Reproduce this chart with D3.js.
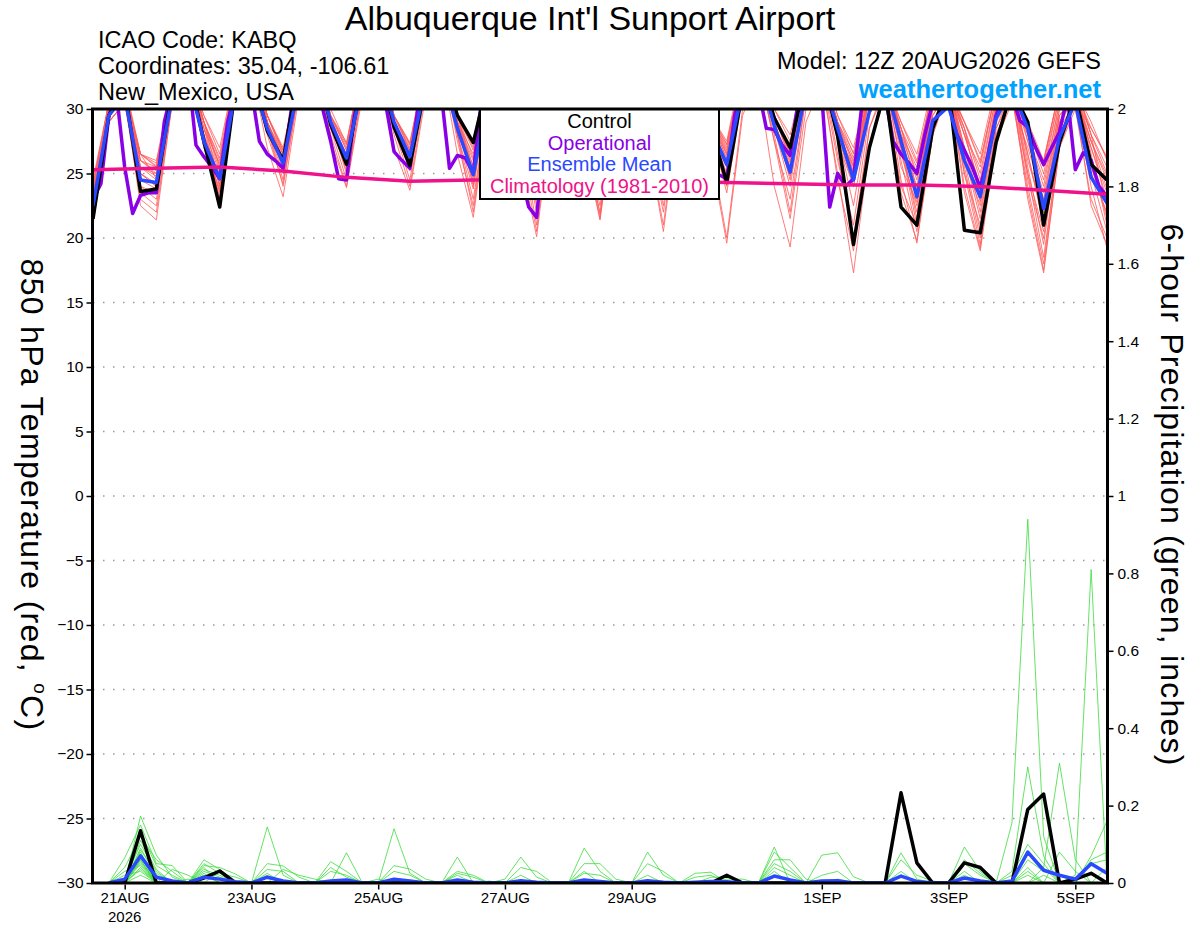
<!DOCTYPE html>
<html>
<head>
<meta charset="UTF-8">
<title>KABQ GEFS meteogram</title>
<script src="https://cdn.jsdelivr.net/npm/d3@7"></script>
<style>
  body { margin: 0; background: #fff; }
  text { font-family: "Liberation Sans", Arial, Helvetica, sans-serif; }
</style>
</head>
<body>
<script>
// ---- data ----
const runStart = Date.UTC(2026, 7, 20, 12);   // 12Z 20AUG2026
const stepHours = 6, nSteps = 65;             // 0..384 h
const operStepHours = 3, nOper = 129;         // operational run is 3-hourly

const tickDays   = ["2026-08-21", "2026-08-23", "2026-08-25", "2026-08-27", "2026-08-29", "2026-09-01", "2026-09-03", "2026-09-05"];
const tickLabels = ["21AUG", "23AUG", "25AUG", "27AUG", "29AUG", "1SEP", "3SEP", "5SEP"];
const tempTicks  = [-30, -25, -20, -15, -10, -5, 0, 5, 10, 15, 20, 25, 30];
const precTicks  = [0, 0.2, 0.4, 0.6, 0.8, 1, 1.2, 1.4, 1.6, 1.8, 2];

// control (black), 850 hPa temperature, 6-hourly
const ctrlTemp = [21.5,29.5,31.5,23.6, 23.8,31.5,33.0,27.5, 22.4,31.8,33.0,28.3, 26.0,33.0,34.0,28.8, 25.7,32.5,34.0,28.6,
  25.6,32.0,33.5,29.5, 27.4,32.5,34.0,29.0, 24.5,32.0,34.0,29.0, 25.0,32.0,34.0,29.0, 25.0,32.0,33.5,28.5,
  24.3,31.5,33.5,29.3, 27.0,32.5,33.0,27.9, 19.5,27.0,31.5,22.4, 21.0,28.5,31.8,20.6, 20.4,27.4,31.5,29.0,
  21.0,27.4,31.0,25.7, 24.5];

// ensemble mean (blue)
const meanTemp = [22.5,29.5,31.0,24.5, 24.3,31.0,32.5,27.5, 24.6,31.5,32.5,28.5, 25.8,32.0,33.5,29.0, 26.2,32.0,33.5,29.0,
  26.3,32.0,33.0,28.5, 24.9,31.5,33.0,28.0, 24.0,31.5,33.0,28.0, 24.2,31.5,33.0,28.0, 24.5,31.5,33.0,28.5,
  25.7,31.5,33.0,28.7, 25.1,31.5,32.5,28.5, 24.5,29.8,32.0,27.5, 23.2,29.1,30.2,26.0, 23.2,29.3,31.5,28.5,
  22.3,27.8,30.5,24.7, 22.7];

// operational (purple), 3-hourly
const operTemp = [23.0,24.2,29.5,31.0,25.5,21.9,23.3,23.5, 23.5,29.0,31.5,32.5,33.0,27.2,26.3,25.5,
  24.6,29.0,31.5,33.0,31.5,27.5,26.5,26.0, 25.4,29.8,32.0,33.5,33.0,30.0,27.5,24.6,
  24.5,29.5,32.0,33.5,33.0,30.2,26.7,26.0, 25.4,30.0,32.0,33.5,31.0,25.4,26.4,26.2,
  25.0,30.5,32.5,33.5,33.0,29.0,25.0,22.4, 21.6,28.0,31.5,33.0,33.0,30.0,28.0,26.5,
  25.0,29.5,32.0,33.5,33.0,30.0,28.0,26.0, 24.5,29.5,32.0,33.5,33.0,30.5,26.0,24.9,
  24.6,29.5,32.0,33.5,31.5,28.5,28.4,27.2, 26.4,30.5,32.5,33.5,31.0,22.4,25.0,24.0,
  24.6,30.0,32.0,33.0,31.0,27.5,26.5,25.8, 25.0,28.0,30.5,32.0,30.5,28.1,26.8,25.5,
  23.9,26.5,29.5,31.0,31.0,29.1,28.6,27.0, 25.7,27.0,28.2,31.0,25.3,26.6,26.0,24.0, 23.2];

// climatology 1981-2010 (magenta), one value per day at 12Z
const climTemp = [25.3, 25.4, 25.5, 25.2, 24.7, 24.4, 24.5, 24.5, 24.5, 24.4, 24.3, 24.2, 24.1, 24.1, 24.0, 23.7, 23.4];

// ensemble members (thin red), 6-hourly
const memberTemp = [
  [21.0,29.5,31.0,22.5, 21.4,30.5,32.5,28.0, 23.0,31.5,33.0,28.5, 24.5,32.0,34.0,29.0, 25.0,32.5,34.0,28.5, 24.5,32.0,33.5,28.0, 22.0,31.0,33.0,27.0, 20.5,30.5,33.0,28.0, 23.0,31.5,33.5,27.5, 21.0,30.5,33.0,27.0, 20.0,30.0,32.5,28.0, 22.0,31.0,32.0,25.0, 17.3,27.0,31.0,24.0, 21.0,29.0,31.5,25.0, 19.5,28.0,31.0,24.0, 18.0,27.5,30.5,22.5, 19.5],
  [22.5,30.0,31.5,25.5, 24.5,31.5,33.0,28.5, 24.0,32.0,33.5,29.0, 26.5,33.0,34.5,29.5, 26.0,32.5,34.0,29.0, 26.0,32.5,34.0,29.5, 25.0,32.0,33.5,28.0, 22.0,31.0,33.0,28.5, 24.5,31.5,33.5,29.0, 23.5,31.5,33.5,29.0, 26.5,32.5,33.5,29.5, 26.0,32.0,33.0,28.0, 24.0,31.0,32.5,27.5, 24.0,30.5,32.0,28.0, 24.0,30.0,31.5,26.5, 21.0,29.0,31.0,27.0, 23.0],
  [23.5,30.5,31.0,26.5, 25.5,31.0,32.5,29.0, 25.5,32.0,33.5,28.5, 25.0,31.5,33.5,28.0, 24.0,31.5,33.5,28.5, 25.5,32.0,34.0,29.0, 26.0,32.5,34.0,28.5, 23.5,31.5,33.0,27.5, 21.5,30.5,32.5,28.0, 25.0,32.0,33.5,29.0, 24.5,31.0,32.0,24.0, 19.3,29.0,32.0,28.0, 25.5,31.5,32.5,27.0, 22.0,29.5,31.5,26.0, 22.5,30.0,32.0,28.5, 25.0,31.0,32.0,26.0, 21.5],
  [22.0,29.0,30.5,24.0, 23.5,30.5,32.0,27.5, 24.5,31.5,33.0,27.0, 23.2,31.0,33.0,29.0, 26.5,33.0,34.5,29.5, 27.0,33.0,34.0,29.0, 24.0,31.5,33.5,29.0, 25.0,32.0,33.5,28.5, 26.0,32.5,34.0,27.5, 20.5,30.0,33.0,29.5, 26.0,32.5,34.0,29.5, 27.0,32.0,33.0,26.5, 20.0,28.5,31.5,23.5, 19.8,28.0,31.5,28.0, 25.5,31.5,32.5,27.5, 23.5,30.0,31.5,28.0, 25.5],
  [24.5,30.5,31.5,26.5, 26.0,32.0,33.0,28.0, 23.5,31.0,33.0,29.0, 26.0,32.5,34.0,29.0, 25.5,32.0,33.5,28.0, 24.0,31.5,33.5,29.5, 27.0,33.0,34.0,28.0, 21.0,30.5,33.0,28.5, 25.0,32.0,33.5,29.0, 24.0,31.5,33.0,28.0, 25.5,32.0,33.5,29.0, 24.5,31.5,33.0,28.5, 26.0,32.0,33.0,28.0, 25.5,31.5,32.5,25.0, 21.0,29.0,31.0,23.5, 17.5,27.0,30.0,23.0, 20.0],
  [21.5,29.5,31.0,25.0, 24.0,31.0,33.0,29.0, 26.0,32.5,34.0,29.5, 27.0,33.0,34.5,28.5, 24.5,31.5,33.5,29.0, 26.8,33.0,34.0,28.0, 23.0,31.0,33.0,29.0, 26.0,32.5,34.0,28.0, 22.5,31.0,33.0,29.0, 26.0,32.5,33.5,26.5, 19.6,29.5,32.5,29.0, 25.5,32.0,33.0,28.5, 25.0,31.5,32.5,27.0, 23.5,30.5,32.0,29.0, 26.5,32.0,32.5,26.0, 22.0,29.5,31.0,27.5, 24.5],
  [23.0,30.0,31.5,23.5, 22.5,30.5,32.5,28.5, 25.0,32.0,33.5,29.0, 26.2,32.5,34.0,29.5, 27.0,33.5,34.5,29.0, 26.5,33.0,34.5,29.5, 25.5,32.5,34.0,28.5, 24.0,31.5,33.5,29.0, 24.0,31.5,33.0,28.0, 22.0,31.0,33.0,29.5, 27.0,33.0,34.0,29.0, 25.5,31.5,32.5,24.5, 19.0,28.5,32.0,29.0, 26.5,32.0,32.5,25.5, 20.0,28.5,31.5,28.0, 24.5,30.5,31.5,25.0, 22.0],
  [22.8,30.0,31.0,26.0, 25.0,31.5,33.0,27.0, 23.8,31.0,33.0,28.5, 25.5,32.0,33.5,28.5, 25.8,32.5,34.0,29.0, 25.8,32.0,33.5,26.5, 21.6,30.5,33.0,28.0, 22.5,31.0,33.0,29.5, 26.5,33.0,34.0,29.0, 25.5,32.0,33.5,28.5, 25.0,31.5,33.0,27.5, 23.0,31.0,33.0,29.0, 25.5,31.0,32.0,26.0, 20.5,28.5,31.0,27.0, 23.5,30.5,32.0,25.5, 19.5,28.5,31.5,29.0, 26.0],
  [21.8,29.0,30.5,25.5, 24.8,31.5,33.0,29.5, 26.5,33.0,34.5,28.5, 24.0,31.5,33.5,29.5, 26.8,33.0,34.5,29.5, 27.2,33.5,34.5,29.0, 26.5,33.0,34.0,29.0, 25.5,32.5,34.0,28.0, 23.5,31.5,33.5,28.5, 24.5,31.5,33.5,29.5, 26.8,32.5,34.0,30.0, 27.5,33.0,33.5,28.5, 24.5,31.0,32.5,28.0, 24.5,31.0,32.0,24.0, 19.2,28.0,31.0,29.0, 26.0,31.5,32.0,26.5, 21.0],
  [24.0,30.5,32.0,26.0, 25.5,31.5,33.0,28.0, 24.8,31.5,33.5,29.0, 26.0,32.5,34.0,29.5, 27.2,33.5,35.0,29.0, 26.2,32.5,34.0,28.5, 24.5,32.0,33.5,26.0, 20.1,30.0,33.0,29.0, 26.0,32.5,34.0,29.5, 26.2,32.5,33.5,28.0, 24.0,31.5,33.0,28.5, 24.0,31.5,33.0,29.5, 26.5,32.0,32.5,26.5, 22.5,30.0,31.5,28.5, 24.5,31.0,32.0,25.0, 20.5,29.0,31.0,27.0, 23.5],
  [23.2,30.0,31.5,24.5, 23.8,31.0,32.5,29.0, 25.2,32.0,33.5,28.5, 25.8,32.5,34.0,29.0, 25.8,32.5,34.0,29.5, 26.8,33.0,34.0,27.5, 22.5,31.0,33.0,28.5, 23.0,31.5,33.5,29.0, 25.5,32.0,33.5,27.5, 23.0,31.0,33.0,29.0, 26.2,32.5,33.5,29.5, 26.5,32.5,33.0,27.5, 24.0,31.0,32.5,28.5, 25.0,31.0,32.0,27.0, 22.0,29.5,31.5,27.5, 22.8,29.5,30.5,24.0, 19.2],
  [22.2,29.5,31.0,26.5, 25.8,32.0,33.5,29.0, 24.2,31.5,33.0,29.5, 26.8,33.0,34.5,30.0, 27.3,33.5,35.0,29.5, 27.3,33.5,34.5,29.5, 27.5,33.5,34.5,29.5, 26.5,33.0,34.0,28.0, 21.8,30.5,33.0,29.5, 26.5,32.5,34.0,28.5, 23.5,31.0,33.0,27.5, 21.5,30.0,32.5,28.0, 22.5,30.0,32.0,27.5, 21.5,29.5,31.5,29.0, 26.0,31.5,32.5,28.5, 25.5,31.0,31.5,27.5, 24.8],
  [23.8,30.5,31.5,25.0, 24.2,31.5,33.0,29.5, 27.0,33.0,34.5,29.0, 25.8,32.5,34.0,29.0, 26.0,32.5,34.0,28.5, 25.2,32.0,33.5,29.0, 24.8,32.0,33.5,29.0, 24.5,32.0,33.5,29.0, 24.8,32.0,33.5,29.0, 25.2,32.0,33.5,29.5, 27.2,33.0,34.0,29.0, 25.0,31.5,33.0,29.0, 25.8,31.5,32.5,29.0, 26.0,31.5,32.5,26.0, 20.5,28.5,31.0,25.0, 18.5,27.5,30.5,25.5, 22.5],
  [21.2,29.0,30.5,23.0, 22.0,30.5,32.0,28.0, 24.5,31.5,33.5,29.5, 26.6,33.0,34.5,29.0, 25.2,32.0,33.5,29.0, 26.4,33.0,34.0,29.0, 25.5,32.5,34.0,29.5, 24.5,31.5,33.5,28.5, 23.0,31.0,33.0,29.5, 25.8,32.5,34.0,29.5, 27.5,33.5,34.0,29.5, 26.5,32.5,33.0,29.0, 26.2,32.0,33.0,28.0, 23.0,30.5,32.0,28.5, 23.0,30.0,31.5,28.0, 24.0,30.5,31.5,28.5, 26.2],
  [22.6,29.5,31.0,26.0, 25.2,31.5,33.0,27.5, 23.2,31.0,33.0,28.0, 24.2,31.5,33.5,29.5, 26.8,33.0,34.5,29.5, 26.8,33.0,34.5,29.5, 26.2,33.0,34.0,29.0, 25.8,32.5,34.0,29.5, 26.2,32.5,34.0,28.0, 22.5,31.0,33.0,29.0, 25.8,32.0,33.5,29.5, 27.0,32.5,33.0,29.0, 24.8,31.0,32.0,24.5, 19.6,28.0,31.5,28.5, 25.0,31.0,32.0,26.5, 21.5,29.5,31.0,25.0, 20.5],
  [24.2,30.5,32.0,26.5, 24.6,31.5,33.0,28.5, 25.8,32.5,34.0,29.0, 25.2,32.0,33.5,29.0, 26.4,33.0,34.5,27.0, 23.7,31.0,33.0,28.5, 25.0,32.0,33.5,29.5, 25.8,32.5,34.0,27.5, 22.0,31.0,33.0,28.5, 24.2,31.5,33.5,29.5, 26.4,32.5,33.5,29.0, 25.8,31.5,32.5,26.0, 21.0,29.5,32.0,28.5, 24.8,31.0,32.0,26.5, 21.5,29.5,31.5,28.5, 26.0,31.5,32.0,28.0, 25.0],
  [21.6,29.0,30.5,24.0, 23.0,30.5,32.5,28.0, 24.0,31.5,33.5,29.0, 26.2,32.5,34.0,28.5, 25.6,32.5,34.0,28.5, 25.6,32.0,33.5,28.0, 23.8,31.5,33.5,29.0, 24.8,32.0,33.5,28.5, 24.2,31.5,33.5,29.5, 26.8,33.0,34.0,28.5, 24.8,32.0,33.5,30.0, 28.0,33.0,33.5,29.5, 27.0,32.0,32.5,25.5, 22.8,30.0,31.5,29.0, 25.8,31.5,32.0,24.5, 20.0,28.5,30.5,25.5, 21.8],
  [23.4,30.0,31.5,26.5, 25.6,32.0,33.5,29.0, 26.2,32.5,34.0,29.5, 26.4,33.0,34.5,29.5, 27.4,33.5,35.0,29.0, 26.6,33.0,34.5,29.5, 26.8,33.0,34.5,29.0, 26.2,32.5,34.0,27.0, 21.4,30.5,33.0,29.0, 25.6,32.0,33.5,29.0, 25.6,32.0,33.5,28.5, 24.8,31.5,33.0,28.5, 25.2,31.5,32.5,28.5, 25.8,31.5,32.0,23.5, 19.0,27.5,30.5,27.0, 23.0,30.0,31.0,27.5, 23.8],
  [22.4,29.5,31.0,25.0, 24.0,31.0,32.5,27.0, 23.6,31.0,33.0,28.5, 25.6,32.5,34.0,27.5, 23.9,31.0,33.5,29.5, 27.4,33.5,35.0,29.0, 25.2,32.5,34.0,28.5, 23.8,31.5,33.5,29.0, 25.8,32.5,34.0,28.5, 23.8,31.5,33.5,29.5, 26.6,33.0,34.0,29.5, 26.2,32.0,33.0,29.0, 26.6,32.0,32.5,27.0, 21.0,29.0,31.5,28.0, 24.0,30.5,31.5,23.0, 17.3,27.0,30.5,28.5, 26.3],
  [21.9,29.5,31.0,25.5, 25.0,31.5,33.0,29.0, 25.6,32.5,34.0,29.5, 26.8,33.0,34.5,29.0, 26.2,32.5,34.0,28.5, 25.4,32.0,33.5,29.0, 24.2,31.5,33.5,28.5, 24.2,31.5,33.5,28.5, 23.8,31.5,33.5,29.5, 27.0,33.0,34.5,29.5, 27.3,33.0,34.0,29.5, 26.8,32.5,33.0,28.0, 25.6,31.5,32.5,28.5, 23.8,30.5,32.0,27.0, 22.8,30.0,31.5,28.5, 25.8,31.5,32.0,28.0, 22.2]
];

// 6-hour precipitation (inches); no value at the initial time
const ctrlPrec = [null,0,0,.135,0, 0,0,.013,.031,0, 0,0,0,0,0, 0,0,0,0,0, 0,0,0,0,0, 0,0,0,0,0, 0,0,0,0,0, 0,0,0,0,0,
  .02,0,0,0,0, 0,0,0,0,0, 0,.233,.052,0,0, .052,.04,0,0,.19, .23,0,.01,.025,0];
const meanPrec = [null,0,.01,.07,.015, .005,0,.015,.01,.003, 0,.015,.005,0,0, .005,.008,0,0,.01, .005,0,0,.008,.002,
  0,0,.006,.002,0, 0,.008,.004,0,0, .006,.002,0,.002,.004, .003,0,0,.018,.008, 0,.005,.006,0,0,
  0,.018,.004,0,0, .013,.005,0,.005,.08, .033,.02,.01,.05,.025];
const memberPrec = [
  [null,0,.01,.10,.03, 0,0,0,0,0, 0,0,0,0,0, 0,0,0,0,0, 0,0,0,.02,0, .005,0,0,0,0, 0,.03,0,0,0, 0,0,0,0,0, 0,0,0,0,0, 0,0,.01,0,0, 0,0,0,0,0, 0,0,0,.155,.94, .12,0,0,0,0],
  [null,0,0,.173,.072, .015,0,0,0,0, 0,.05,.044,.015,0, 0,0,0,0,0, 0,0,0,0,0, 0,0,0,0,0, 0,0,0,0,0, 0,0,0,0,.015, .015,0,0,0,0, 0,0,0,0,0, 0,0,0,0,0, .03,0,0,0,0, 0,0,0,0,0],
  [null,0,.065,.15,.05, .045,0,0,0,0, 0,0,0,0,0, 0,0,0,0,0, 0,0,0,.03,.02, 0,0,0,0,0, 0,0,0,0,0, 0,0,0,0,0, 0,0,0,.08,.04, 0,0,0,0,0, 0,0,0,0,0, 0,0,0,0,.08, .04,0,0,0,0],
  [null,0,0,.06,0, 0,0,.06,.035,0, 0,0,0,0,0, 0,0,0,0,0, 0,0,0,0,0, 0,0,.04,.03,0, 0,0,0,0,0, 0,0,0,0,0, 0,0,0,.04,.02, 0,0,0,0,0, 0,0,0,0,0, 0,0,0,0,0, 0,.08,.03,0,0],
  [null,0,0,.08,0, 0,.01,0,0,0, 0,0,0,0,0, .055,.03,0,0,0, 0,0,0,0,0, 0,0,0,0,0, 0,0,0,0,0, 0,0,0,.025,.028, 0,0,0,0,0, 0,0,0,0,0, 0,.03,0,0,0, 0,0,0,0,0, 0,0,0,.07,.16],
  [null,0,0,.04,0, 0,0,.03,.015,0, 0,0,0,0,0, 0,.078,0,0,0, 0,0,0,0,0, 0,0,0,0,0, 0,0,0,0,0, .05,.03,0,0,0, 0,0,0,0,0, 0,0,0,0,0, 0,0,0,0,0, .06,.025,0,0,0, 0,0,0,0,0],
  [null,0,.04,.12,.06, .03,0,0,0,0, 0,0,0,0,0, 0,0,0,0,.045, .036,.01,0,0,0, 0,0,0,0,0, 0,0,0,0,0, 0,0,0,0,0, 0,0,0,.03,0, 0,0,0,0,0, 0,0,0,0,0, 0,0,0,.02,.10, .05,0,0,0,0],
  [null,0,0,.05,0, 0,0,.045,.04,.023, 0,0,0,0,0, 0,0,0,0,0, 0,0,0,0,0, 0,0,0,0,0, 0,.09,.03,0,0, 0,0,0,0,0, 0,0,0,0,0, 0,0,0,0,0, 0,0,0,0,0, 0,0,0,0,.03, 0,0,0,0,0],
  [null,0,0,.09,.02, 0,0,0,0,0, 0,.145,.02,0,0, 0,0,0,0,0, 0,0,0,0,0, 0,0,0,0,0, 0,0,0,0,0, 0,0,0,0,0, 0,0,0,.093,0, 0,0,0,0,0, 0,0,0,0,0, .02,0,0,0,0, 0,0,0,0,.04],
  [null,0,0,.07,0, 0,0,.05,.025,.015, 0,0,0,0,0, 0,0,0,.01,0, 0,0,0,0,0, 0,0,0,0,0, 0,.025,.02,0,0, 0,0,0,0,0, 0,0,0,0,0, 0,0,0,0,0, 0,.078,.01,0,0, 0,0,0,0,0, .02,0,0,0,0],
  [null,0,0,.11,.035, 0,0,0,0,0, 0,.02,0,0,0, 0,0,0,0,.14, .025,0,0,0,0, 0,0,0,0,0, 0,0,0,0,0, 0,0,0,.015,.02, 0,0,0,0,0, 0,0,0,0,0, 0,0,0,0,0, .05,.02,0,0,0, 0,0,.02,.81,0],
  [null,0,.02,.03,0, .035,.02,0,0,0, 0,0,0,0,0, 0,0,0,0,0, 0,0,0,.025,.015, 0,0,0,0,0, 0,0,0,0,0, 0,0,0,0,0, 0,0,0,.06,.06, .01,0,0,0,0, 0,0,0,0,0, 0,0,0,0,.06, .03,.02,0,0,0],
  [null,0,0,.06,0, 0,0,.04,0,0, 0,0,0,0,0, .04,.015,0,0,0, 0,0,0,0,0, 0,0,0,0,0, 0,0,0,0,0, .02,0,0,0,0, 0,0,0,0,0, 0,0,0,0,0, 0,.06,.02,.005,0, 0,0,0,0,0, 0,0,0,0,0],
  [null,0,0,.13,.045, .02,0,0,0,0, 0,.025,0,0,0, 0,0,0,0,0, 0,0,0,.067,0, 0,0,0,0,0, 0,0,0,0,0, 0,0,0,0,0, .01,.01,0,0,0, 0,0,0,0,0, 0,0,0,0,0, .093,.03,0,0,0, 0,0,0,0,0],
  [null,0,.03,.045,0, 0,0,.02,0,0, 0,0,0,0,0, 0,0,0,0,0, 0,0,0,0,0, 0,.01,.067,.015,0, 0,0,0,0,0, 0,0,0,0,0, 0,0,0,0,0, 0,0,0,0,0, 0,0,0,0,0, 0,0,0,.03,.30, .07,0,0,0,0],
  [null,0,0,.085,.025, 0,0,0,0,0, 0,.035,.03,0,0, 0,0,0,0,0, 0,0,0,0,0, 0,0,.02,0,0, 0,0,0,0,0, 0,0,0,0,0, 0,0,0,0,0, 0,.072,.078,.016,0, 0,0,0,0,0, 0,0,0,0,0, 0,0,0,.06,.08],
  [null,0,0,.055,0, 0,0,.035,.02,0, 0,0,0,0,0, 0,0,0,0,0, 0,0,0,0,0, 0,0,0,0,0, 0,.05,.05,.01,0, 0,0,0,0,0, 0,0,0,0,0, 0,0,0,0,0, 0,.02,0,0,0, 0,0,0,0,0, 0,0,0,.05,.06],
  [null,0,0,.02,0, 0,0,0,0,0, 0,0,.035,.02,.01, 0,0,0,0,0, 0,0,0,0,0, 0,0,0,0,0, 0,0,0,0,0, 0,0,0,0,0, 0,0,0,.05,.03, 0,0,0,0,0, 0,0,0,0,0, 0,0,0,0,.04, 0,0,0,0,0],
  [null,0,0,.075,0, 0,0,.025,0,0, 0,0,0,0,0, .03,.02,0,0,0, 0,0,0,0,0, 0,0,0,0,0, 0,0,0,0,0, .08,.02,0,0,0, 0,0,0,0,0, 0,0,0,0,0, 0,0,0,0,0, 0,0,0,0,0, .04,.31,.06,0,0],
  [null,0,0,.035,0, 0,0,0,.03,0, 0,0,0,0,0, 0,0,0,0,.03, .02,0,0,0,0, 0,0,0,0,0, 0,0,0,0,0, 0,0,0,0,0, 0,0,0,0,0, 0,.02,.03,0,0, 0,0,0,0,0, 0,0,0,0,.02, 0,0,0,0,0]
];

const legendItems = [
  ["Control", "#000000"],
  ["Operational", "#8a00e6"],
  ["Ensemble Mean", "#2a48ff"],
  ["Climatology (1981-2010)", "#f0128a"]
];

// ---- layout ----
const W = 1200, H = 927;
const plot = {left: 93, right: 1107, top: 109, bottom: 883};
const col = {member: "#ff5a5a", green: "#3ddc3d", oper: "#8a00e6", mean: "#2a48ff", clim: "#f0128a"};

const svg = d3.select("body").append("svg")
  .attr("width", W).attr("height", H);

const times = d3.range(nSteps).map(i => d3.utcHour.offset(new Date(runStart), i * stepHours));
const operTimes = d3.range(nOper).map(i => d3.utcHour.offset(new Date(runStart), i * operStepHours));
const climTimes = d3.range(climTemp.length).map(i => d3.utcDay.offset(new Date(runStart), i));

const x = d3.scaleUtc().domain([times[0], times[nSteps - 1]]).range([plot.left, plot.right]);
const yT = d3.scaleLinear().domain([-30, 30]).range([plot.bottom, plot.top]);
const yP = d3.scaleLinear().domain([0, 2]).range([plot.bottom, plot.top]);

svg.append("defs").append("clipPath").attr("id", "plotclip")
  .append("rect")
  .attr("x", plot.left).attr("y", plot.top)
  .attr("width", plot.right - plot.left).attr("height", plot.bottom - plot.top);

// dotted gridlines
svg.append("g")
  .selectAll("line")
  .data(tempTicks.filter(t => t > -30 && t < 30))
  .enter().append("line")
  .attr("x1", plot.left).attr("x2", plot.right)
  .attr("y1", d => yT(d)).attr("y2", d => yT(d))
  .attr("stroke", "#9a9a9a")
  .attr("stroke-width", 1.5)
  .attr("stroke-dasharray", "1.5,8.5");

const g = svg.append("g").attr("clip-path", "url(#plotclip)");

const lineT = d3.line().x((d, i) => x(times[i])).y(d => yT(d));
const lineOper = d3.line().x((d, i) => x(operTimes[i])).y(d => yT(d));
const lineClim = d3.line().x((d, i) => x(climTimes[i])).y(d => yT(d));
const lineP = d3.line().defined(d => d !== null).x((d, i) => x(times[i])).y(d => yP(d));

// members
g.append("g").selectAll("path")
  .data(memberTemp).enter().append("path")
  .attr("d", lineT)
  .attr("fill", "none").attr("stroke", col.member).attr("stroke-width", 0.8);

g.append("g").selectAll("path")
  .data(memberPrec).enter().append("path")
  .attr("d", lineP)
  .attr("fill", "none").attr("stroke", col.green).attr("stroke-width", 0.8);

// thick lines
g.append("path").attr("d", lineOper(operTemp))
  .attr("fill", "none").attr("stroke", col.oper).attr("stroke-width", 3.5).attr("stroke-linejoin", "round");
g.append("path").attr("d", lineT(ctrlTemp))
  .attr("fill", "none").attr("stroke", "#000").attr("stroke-width", 3.5).attr("stroke-linejoin", "round");
g.append("path").attr("d", lineT(meanTemp))
  .attr("fill", "none").attr("stroke", col.mean).attr("stroke-width", 3.5).attr("stroke-linejoin", "round");
g.append("path").attr("d", lineP(ctrlPrec))
  .attr("fill", "none").attr("stroke", "#000").attr("stroke-width", 3.5).attr("stroke-linejoin", "round");
g.append("path").attr("d", lineP(meanPrec))
  .attr("fill", "none").attr("stroke", col.mean).attr("stroke-width", 3.5).attr("stroke-linejoin", "round");
g.append("path").attr("d", lineClim(climTemp))
  .attr("fill", "none").attr("stroke", col.clim).attr("stroke-width", 3.5);

// legend
const lg = svg.append("g");
lg.append("rect")
  .attr("x", 480).attr("y", plot.top).attr("width", 239).attr("height", 90)
  .attr("fill", "#fff").attr("stroke", "#000").attr("stroke-width", 2);
lg.selectAll("text")
  .data(legendItems).enter().append("text")
  .attr("x", 599.5).attr("y", (d, i) => 128 + i * 21.6)
  .attr("text-anchor", "middle")
  .attr("font-size", 20)
  .attr("fill", d => d[1])
  .text(d => d[0]);

// frame
svg.append("rect")
  .attr("x", plot.left - 0.5).attr("y", plot.top)
  .attr("width", plot.right - plot.left + 1).attr("height", plot.bottom - plot.top)
  .attr("fill", "none").attr("stroke", "#000").attr("stroke-width", 3);

// axes
const styleAxis = sel => {
  sel.select(".domain").remove();
  sel.selectAll(".tick line").attr("stroke-width", 1.5);
  sel.selectAll("text").attr("font-family", "Liberation Sans, Arial, sans-serif").attr("fill", "#000");
};

svg.append("g")
  .attr("transform", `translate(${plot.left - 1.5},0)`)
  .call(d3.axisLeft(yT).tickValues(tempTicks).tickSize(5).tickPadding(3).tickFormat(d3.format("d")))
  .attr("font-size", 15.5)
  .call(styleAxis);

svg.append("g")
  .attr("transform", `translate(${plot.right + 1.5},0)`)
  .call(d3.axisRight(yP).tickValues(precTicks).tickSize(5).tickPadding(4).tickFormat(d3.format("~g")))
  .attr("font-size", 15.5)
  .call(styleAxis);

const parseDay = d3.utcParse("%Y-%m-%d");
const tickDates = tickDays.map(parseDay);
svg.append("g")
  .attr("transform", `translate(0,${plot.bottom + 1.5})`)
  .call(d3.axisBottom(x).tickValues(tickDates).tickSize(5).tickPadding(3)
    .tickFormat((d, i) => tickLabels[i]))
  .attr("font-size", 15)
  .call(styleAxis);

svg.append("text")
  .attr("x", x(tickDates[0])).attr("y", 922)
  .attr("text-anchor", "middle").attr("font-size", 15)
  .text("2026");

// titles
svg.append("text")
  .attr("x", 590).attr("y", 30)
  .attr("text-anchor", "middle").attr("font-size", 34)
  .text("Albuquerque Int'l Sunport Airport");

const info = ["ICAO Code: KABQ", "Coordinates: 35.04, -106.61", "New_Mexico, USA"];
svg.append("g").selectAll("text")
  .data(info).enter().append("text")
  .attr("x", 98).attr("y", (d, i) => 48 + i * 26)
  .attr("font-size", 23.5)
  .text(d => d);

svg.append("text")
  .attr("x", 1101).attr("y", 69)
  .attr("text-anchor", "end").attr("font-size", 23.5)
  .text("Model: 12Z 20AUG2026 GEFS");

svg.append("text")
  .attr("x", 1101).attr("y", 98)
  .attr("text-anchor", "end").attr("font-size", 25.5).attr("font-weight", "bold")
  .attr("fill", "#00a2ff")
  .text("weathertogether.net");

// axis titles (rotated, reading downward)
const lt = svg.append("text")
  .attr("transform", "translate(21,495) rotate(90)")
  .attr("text-anchor", "middle").attr("font-size", 32).attr("letter-spacing", 1.3);
lt.append("tspan").text("850 hPa Temperature (red, ");
lt.append("tspan").attr("font-size", 19).attr("dy", -13).text("o");
lt.append("tspan").attr("dy", 13).text("C)");

svg.append("text")
  .attr("transform", "translate(1161,495) rotate(90)")
  .attr("text-anchor", "middle").attr("font-size", 32).attr("letter-spacing", 1.2)
  .text("6-hour Precipitation (green, inches)");
</script>
</body>
</html>
